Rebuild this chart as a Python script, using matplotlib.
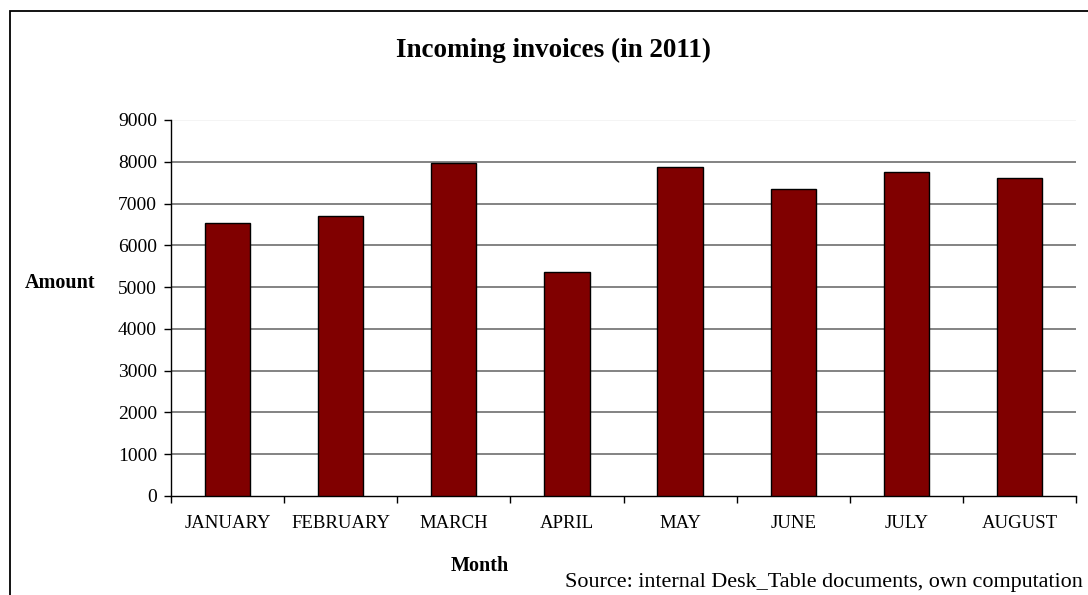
import matplotlib.pyplot as plt
from matplotlib.patches import Rectangle
import numpy as np

months = ["JANUARY", "FEBRUARY", "MARCH", "APRIL", "MAY", "JUNE", "JULY", "AUGUST"]
amounts = [6540, 6700, 7960, 5370, 7880, 7340, 7760, 7600]
yticks = [0, 1000, 2000, 3000, 4000, 5000, 6000, 7000, 8000, 9000]

plt.rcParams['font.family'] = ['Liberation Serif', 'DejaVu Serif']

fig = plt.figure(figsize=(10.88, 5.95), dpi=100)
ax = fig.add_axes([171 / 1088, 1 - 496 / 595, (1076 - 171) / 1088, (496 - 120) / 595])

x = np.arange(len(months))
ax.bar(x, amounts, width=0.4, color="#800000", edgecolor="black", linewidth=1, zorder=3)

# grid lines (the top one is barely visible in the original)
for v in yticks[1:]:
    c = "#f2f2f2" if v == 9000 else "#6e6e6e"
    ax.axhline(v, color=c, lw=1.2, zorder=1)

ax.set_xlim(-0.5, len(months) - 0.5)
ax.set_ylim(0, 9000)
ax.set_yticks(yticks)
ax.set_yticklabels([str(v) for v in yticks], fontsize=14)
ax.tick_params(axis="y", direction="out", length=5, width=1, pad=5)

ax.set_xticks(x)
ax.set_xticklabels(months, fontsize=13.5)
ax.tick_params(axis="x", which="major", length=0, pad=14)
ax.set_xticks(np.arange(-0.5, len(months)), minor=True)
ax.tick_params(axis="x", which="minor", direction="out", length=5, width=1)

for s in ["top", "right"]:
    ax.spines[s].set_visible(False)
ax.spines["left"].set_linewidth(1)
ax.spines["bottom"].set_linewidth(1)

fig.text(554 / 1088, 1 - 50 / 595, "Incoming invoices (in 2011)", ha="center", va="center",
         fontsize=19.5, fontweight="bold")
fig.text(60 / 1088, 1 - 283 / 595, "Amount", ha="center", va="center",
         fontsize=14.5, fontweight="bold")
fig.text(480 / 1088, 1 - 566 / 595, "Month", ha="center", va="center",
         fontsize=14.5, fontweight="bold")
fig.text(1083 / 1088, 1 - 582 / 595, "Source: internal Desk_Table documents, own computation",
         ha="right", va="center", fontsize=15.9)

# outer chart border
fig.patches.append(Rectangle((10 / 1088, -0.2), 1.2, 1.2 - 11 / 595, transform=fig.transFigure,
                             fill=False, edgecolor="black", lw=1.3))

fig.savefig("out.png", dpi=100)
